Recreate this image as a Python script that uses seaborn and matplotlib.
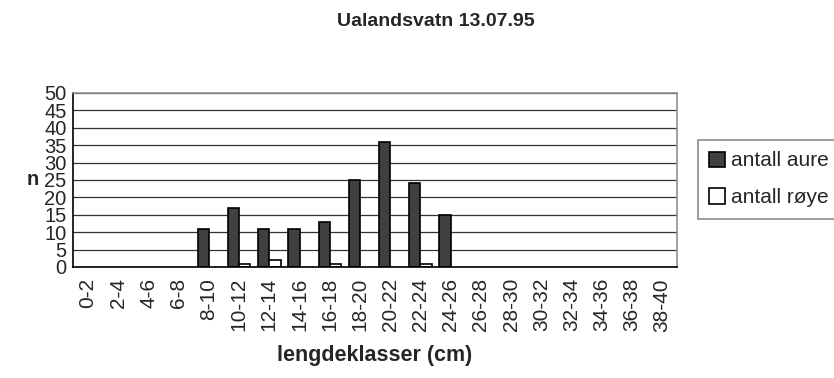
import matplotlib
matplotlib.use("Agg")
import matplotlib.pyplot as plt
import seaborn as sns
import pandas as pd
from matplotlib.patches import Patch

classes = ["0-2", "2-4", "4-6", "6-8", "8-10", "10-12", "12-14", "14-16", "16-18",
           "18-20", "20-22", "22-24", "24-26", "26-28", "28-30", "30-32", "32-34",
           "34-36", "36-38", "38-40"]
aure = [0, 0, 0, 0, 11, 17, 11, 11, 13, 25, 36, 24, 15, 0, 0, 0, 0, 0, 0, 0]
roye = [0, 0, 0, 0, 0, 1, 2, 0, 1, 0, 0, 1, 0, 0, 0, 0, 0, 0, 0, 0]
series_names = ["antall aure", "antall røye"]
colors = ["#404040", "#ffffff"]

df = pd.DataFrame({
    "klasse": classes * 2,
    "n": aure + roye,
    "serie": [series_names[0]] * len(classes) + [series_names[1]] * len(classes),
})

sns.set_style("white")
plt.rcParams["font.family"] = ["Liberation Sans", "DejaVu Sans"]

fig = plt.figure(figsize=(8.34, 3.78), dpi=100)
ax = fig.add_axes([0.0875, 0.2937, 0.7245, 0.4603])

sns.barplot(data=df, x="klasse", y="n", hue="serie", order=classes,
            hue_order=series_names, palette=colors, width=0.74,
            edgecolor="black", linewidth=1.2, ax=ax, legend=False)

# empty classes show no outline
for p in ax.patches:
    if p.get_height() == 0:
        p.set_linewidth(0)

ax.set_ylim(0, 50)
ax.set_xlim(-0.5, len(classes) - 0.5)
ax.set_yticks(range(0, 51, 5))
ax.yaxis.grid(True, color="#333333", linewidth=0.9)
ax.set_axisbelow(True)

# category boundaries as tick marks
ax.set_xticks([i - 0.5 for i in range(len(classes) + 1)], minor=False)
ax.set_xticklabels([""] * (len(classes) + 1))
ax.set_xticks(range(len(classes)), minor=True)
ax.set_xticklabels(classes, minor=True, rotation=90, fontsize=15)
ax.tick_params(axis="x", which="major", direction="inout", length=10, width=1, color="black")
ax.tick_params(axis="x", which="minor", length=0, pad=8)
ax.tick_params(axis="y", direction="inout", length=7, width=1, color="black",
               labelsize=14.5, pad=1)
for lbl in ax.get_yticklabels():
    lbl.set_verticalalignment("center_baseline")

for s in ["left", "bottom"]:
    ax.spines[s].set_color("black")
    ax.spines[s].set_linewidth(1.2)
for s in ["top", "right"]:
    ax.spines[s].set_color("#909090")
    ax.spines[s].set_linewidth(1.2)
    ax.spines[s].set_visible(True)

ax.set_xlabel("lengdeklasser (cm)", fontsize=15.5, fontweight="bold", labelpad=10)
ax.set_ylabel("n", fontsize=14.5, fontweight="bold", rotation=0, ha="right", va="center")
ax.yaxis.set_label_coords(-0.056, 0.5)
fig.suptitle("Ualandsvatn 13.07.95", fontsize=14, fontweight="bold", x=0.522, y=0.965)

handles = [Patch(facecolor=c, edgecolor="black", linewidth=1.2) for c in colors]
leg = fig.legend(handles, series_names, loc="upper left",
                 bbox_to_anchor=(698 / 834, 1 - 140 / 378), fontsize=15,
                 frameon=True, fancybox=False, handlelength=0.75, handleheight=0.75,
                 handletextpad=0.3, labelspacing=0.85, borderpad=0.55,
                 borderaxespad=0)
leg.get_frame().set_edgecolor("#707070")
leg.get_frame().set_linewidth(1.2)

fig.savefig("out.png", dpi=100)
